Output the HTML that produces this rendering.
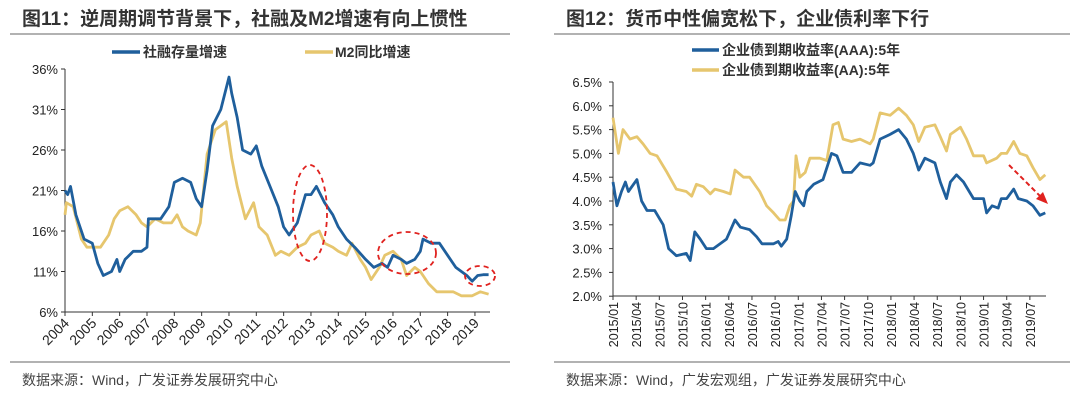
<!DOCTYPE html>
<html><head><meta charset="utf-8">
<style>
body{margin:0;background:#fff;width:1080px;height:407px;overflow:hidden;font-family:"Liberation Sans","Noto Sans CJK SC",sans-serif;}
svg text{font-family:"Liberation Sans","Noto Sans CJK SC",sans-serif;}
</style></head>
<body>
<svg id="s" width="1080" height="407">
<g>
<text x="22" y="25" font-size="19" font-weight="bold" fill="#333">图11：逆周期调节背景下，社融及M2增速有向上惯性</text>
<line x1="10" y1="34" x2="510" y2="34" stroke="#999" stroke-width="1.5"/>
<line x1="112" y1="52" x2="140" y2="52" stroke="#1f5f9c" stroke-width="3.5"/>
<text x="143" y="57" font-size="14" font-weight="bold" fill="#333">社融存量增速</text>
<line x1="305" y1="52" x2="333" y2="52" stroke="#e6c66e" stroke-width="3.5"/>
<text x="335" y="57" font-size="14" font-weight="bold" fill="#333">M2同比增速</text>
<g id="lc"></g>
<line x1="10" y1="362" x2="510" y2="362" stroke="#999" stroke-width="1.5"/>
<text x="22" y="385" font-size="14" fill="#444">数据来源：Wind，广发证券发展研究中心</text>
</g>
<g>
<text x="566" y="25" font-size="19" font-weight="bold" fill="#333">图12：货币中性偏宽松下，企业债利率下行</text>
<line x1="554" y1="34" x2="1070" y2="34" stroke="#999" stroke-width="1.5"/>
<line x1="692" y1="50" x2="719" y2="50" stroke="#1f5f9c" stroke-width="3.5"/>
<text x="722" y="55" font-size="14" font-weight="bold" fill="#333">企业债到期收益率(AAA):5年</text>
<line x1="692" y1="70" x2="719" y2="70" stroke="#e6c66e" stroke-width="3.5"/>
<text x="722" y="75" font-size="14" font-weight="bold" fill="#333">企业债到期收益率(AA):5年</text>
<g id="rc"></g>
<line x1="554" y1="362" x2="1070" y2="362" stroke="#999" stroke-width="1.5"/>
<text x="566" y="385" font-size="14" fill="#444">数据来源：Wind，广发宏观组，广发证券发展研究中心</text>
</g>
</svg>
<script>
// Left chart data
const leftYears=["2004","2005","2006","2007","2008","2009","2010","2011","2012","2013","2014","2015","2016","2017","2018","2019"];
const leftTicks=[6,11,16,21,26,31,36];
const sfX=[2004.0,2004.1,2004.2,2004.4,2004.7,2005.0,2005.2,2005.4,2005.7,2005.9,2006.0,2006.2,2006.5,2006.8,2007.0,2007.05,2007.5,2007.8,2008.0,2008.3,2008.6,2008.8,2009.0,2009.2,2009.4,2009.7,2010.0,2010.1,2010.3,2010.5,2010.8,2011.0,2011.2,2011.5,2011.8,2012.0,2012.2,2012.5,2012.8,2013.0,2013.2,2013.5,2013.8,2014.0,2014.3,2014.6,2015.0,2015.3,2015.6,2015.8,2016.0,2016.3,2016.5,2016.8,2017.0,2017.1,2017.4,2017.7,2018.0,2018.3,2018.7,2018.9,2019.1,2019.3,2019.5];
const sfY=[21,20.5,21.5,18,15,14.5,12,10.5,11,12.5,11,12.5,13.5,13.5,14,17.5,17.5,19,22,22.5,22,20,19,23.5,29,31,35,33,30,26,25.5,26.5,24,21.5,19,16.5,15.5,17,20.5,20.5,21.5,19.5,18,16.5,15,14,12.5,11.5,12,11.5,13,12.5,12,12.5,13.5,15,14.5,14.5,13,11.5,10.5,9.8,10.5,10.6,10.6];
const m2X=[2004.0,2004.05,2004.3,2004.6,2004.8,2005.0,2005.3,2005.6,2005.8,2006.0,2006.3,2006.6,2006.8,2007.0,2007.3,2007.6,2007.9,2008.1,2008.3,2008.5,2008.8,2008.95,2009.2,2009.5,2009.9,2010.1,2010.3,2010.6,2010.9,2011.1,2011.4,2011.7,2011.9,2012.2,2012.5,2012.8,2013.0,2013.3,2013.5,2013.8,2014.0,2014.3,2014.5,2014.8,2015.0,2015.2,2015.5,2015.7,2016.0,2016.3,2016.5,2016.8,2017.0,2017.3,2017.6,2017.9,2018.2,2018.5,2018.9,2019.2,2019.5];
const m2Y=[18,19.5,19,15,14,14,14,15.5,17.5,18.5,19,18,17,16.5,17.5,17,17,18,16.5,16,15.5,17,25.5,28.5,29.5,25,21.5,17.5,19.5,16.5,15.5,13,13.5,13,14,14.5,15.5,16,14.5,14,13.5,13,14.5,12.5,11.5,10,11.5,13,13.5,12.5,10.5,11.5,11,9.5,8.5,8.5,8.5,8,8,8.5,8.2];
// Right chart data (months since 2015/01)
const rightLabels=["2015/01","2015/04","2015/07","2015/10","2016/01","2016/04","2016/07","2016/10","2017/01","2017/04","2017/07","2017/10","2018/01","2018/04","2018/07","2018/10","2019/01","2019/04","2019/07"];
const rightTicks=[2.0,2.5,3.0,3.5,4.0,4.5,5.0,5.5,6.0,6.5];
const aaaM=[0,0.5,1.1,1.6,2,3.1,3.7,4.4,5.4,6.5,7.2,8.2,9.5,10,10.6,11.3,12.1,13,14.7,15.8,16.5,17.7,18.6,19.3,20.8,21.4,21.8,22.5,23.1,23.6,24.2,24.7,25.1,26,27.2,28.3,29,29.8,30.9,32,33.3,33.7,34.6,35.9,37,38,38.9,39.6,40.4,41.7,42.4,43.2,43.7,44.5,45.4,46.7,48,48.4,49.1,49.9,50.3,51,51.9,52.5,53.6,54.4,55.3,56];
const aaaV=[4.4,3.9,4.2,4.4,4.2,4.45,4.0,3.8,3.8,3.5,3.0,2.85,2.9,2.75,3.35,3.2,3.0,3.0,3.2,3.6,3.45,3.4,3.25,3.1,3.1,3.15,3.05,3.2,3.7,4.2,4.0,3.9,4.2,4.35,4.45,5.0,4.95,4.6,4.6,4.8,4.75,4.8,5.3,5.4,5.5,5.3,5.0,4.65,4.9,4.8,4.4,4.05,4.4,4.55,4.4,4.05,4.05,3.75,3.9,3.85,4.05,4.05,4.25,4.05,4.0,3.9,3.7,3.75];
const aaM=[0,0.7,1.3,2.2,3.1,3.9,4.8,5.7,7,8.2,9.5,10.2,10.8,11.7,12.6,13.2,14.3,15.2,15.8,16.9,17.7,19,19.9,20.8,21.6,22.3,22.9,23.4,23.7,24.2,24.9,25.5,26.8,27.7,28.5,29.2,29.8,30.9,32,33.3,33.7,34.6,35.9,37,38,38.9,39.6,40.4,41.7,42.4,43.2,43.7,45,45.8,46.7,48,48.4,49.7,50.3,51,51.9,52.7,53.6,54.4,55.3,56];
const aaV=[5.75,5.0,5.5,5.3,5.35,5.2,5.0,4.95,4.6,4.25,4.2,4.1,4.35,4.3,4.15,4.25,4.2,4.15,4.65,4.5,4.5,4.2,3.9,3.75,3.6,3.6,3.9,4.0,4.95,4.5,4.6,4.9,4.9,4.85,5.6,5.65,5.3,5.25,5.3,5.2,5.3,5.85,5.8,5.95,5.8,5.6,5.25,5.55,5.6,5.35,5.05,5.4,5.55,5.3,4.95,4.95,4.8,4.9,5.0,5.0,5.25,5.0,4.95,4.7,4.45,4.55];

const NS="http://www.w3.org/2000/svg";
function mk(parent,tag,attrs){const e=document.createElementNS(NS,tag);for(const k in attrs)e.setAttribute(k,attrs[k]);parent.appendChild(e);return e;}

// Left axes
const lx=v=>65+(v-2004)*27.33;
const ly=v=>69+(36-v)*8.1;
const lc=document.getElementById('lc');
let ax=mk(lc,'line',{x1:65,y1:69,x2:65,y2:312,stroke:'#333'});


ax=mk(lc,'line',{x1:65,y1:312,x2:490,y2:312,stroke:'#333'});


leftTicks.forEach(t=>{
  const tk=mk(lc,'line',{x1:61,x2:65,y1:ly(t),y2:ly(t),stroke:'#333'});
  
  
  const tx=mk(lc,'text',{x:58,y:ly(t)+5,'font-size':13,'text-anchor':'end',fill:'#222'});
  tx.textContent=t+'%';
  
  
});
leftYears.forEach(y=>{
  const x=lx(+y);
  const tk=mk(lc,'line',{x1:x,x2:x,y1:312,y2:316,stroke:'#333'});
  
  
  const tx=mk(lc,'text',{x:x+5,y:324,'font-size':14,'text-anchor':'end',fill:'#222',transform:`rotate(-45 ${x+5} 324)`});
  tx.textContent=y;
  
  
});
function line(parent,xs,ys,fx,fy,color,name){
  const d=xs.map((x,i)=>(i?'L':'M')+fx(x).toFixed(1)+','+fy(ys[i]).toFixed(1)).join(' ');
  const p=mk(parent,'path',{d:d,fill:'none',stroke:color,'stroke-width':2.8,'stroke-linejoin':'round'});
  
  
}
line(lc,m2X,m2Y,lx,ly,'#e6c66e','m2-growth-line');
line(lc,sfX,sfY,lx,ly,'#1f5f9c','social-financing-line');
[[310,213,17,48],[407,253,29,21],[480,276,15,10]].forEach(e=>{
  const el=mk(lc,'ellipse',{cx:e[0],cy:e[1],rx:e[2],ry:e[3],fill:'none',stroke:'#e0221f','stroke-width':1.8,'stroke-dasharray':'5,4'});
  
  
});

// Right axes
const rx=m=>613+m*7.72;
const ry=v=>82+(6.5-v)*47.6;
const rc=document.getElementById('rc');
ax=mk(rc,'line',{x1:613,y1:82,x2:613,y2:296,stroke:'#333'});


ax=mk(rc,'line',{x1:613,y1:296,x2:1046,y2:296,stroke:'#333'});


rightTicks.forEach(t=>{
  const tk=mk(rc,'line',{x1:609,x2:613,y1:ry(t),y2:ry(t),stroke:'#333'});
  
  
  const tx=mk(rc,'text',{x:602,y:ry(t)+5,'font-size':13,'text-anchor':'end',fill:'#222'});
  tx.textContent=t.toFixed(1)+'%';
  
  
});
rightLabels.forEach((l,i)=>{
  const x=rx(i*3);
  const tk=mk(rc,'line',{x1:x,x2:x,y1:296,y2:300,stroke:'#333'});
  
  
  const tx=mk(rc,'text',{x:x+5,y:302,'font-size':12.5,'text-anchor':'end',fill:'#222',transform:`rotate(-90 ${x+5} 302)`});
  tx.textContent=l;
  
  
});
line(rc,aaM,aaV,rx,ry,'#e6c66e','aa-yield-line');
line(rc,aaaM,aaaV,rx,ry,'#1f5f9c','aaa-yield-line');
const ar=mk(rc,'line',{x1:1009,y1:165,x2:1042,y2:198,stroke:'#e0221f','stroke-width':2,'stroke-dasharray':'5,3'});


const ah=mk(rc,'polygon',{points:'1048,204 1036,199 1043,192',fill:'#e0221f'});


</script>
</body></html>
